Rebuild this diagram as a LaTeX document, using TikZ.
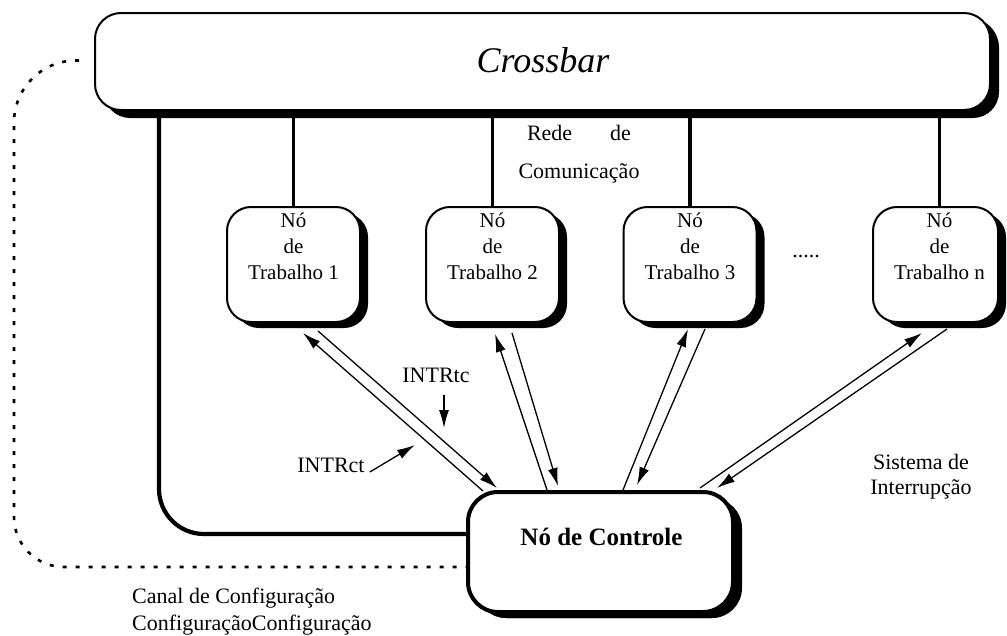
\documentclass[tikz,border=0pt]{standalone}
\usepackage{fontspec}
\setmainfont{Liberation Serif}
\usetikzlibrary{arrows.meta,shadows,calc}

\begin{document}
\begin{tikzpicture}[x=1pt,y=-1pt,
  every node/.style={font=\fontsize{22}{26}\selectfont, inner sep=0pt},
  shadowed/.style={draw, fill=white,
    drop shadow={shadow xshift=8pt, shadow yshift=-6pt, fill=black, opacity=1}},
  crossbar/.style={shadowed, line width=2pt, rounded corners=26pt,
    minimum width=895pt, minimum height=97pt,
    drop shadow={shadow xshift=9pt, shadow yshift=-8pt, fill=black, opacity=1}},
  worker/.style={shadowed, line width=2pt, rounded corners=24pt,
    minimum width=133pt, minimum height=115pt},
  control/.style={shadowed, line width=4pt, rounded corners=30pt,
    minimum width=265pt, minimum height=120pt,
    drop shadow={shadow xshift=9pt, shadow yshift=-6pt, fill=black, opacity=1}},
  bus/.style={line width=3.8pt},
  cfg/.style={line width=2.6pt, dash pattern=on 4pt off 9pt},
  tip/.tip={Latex[length=18pt,width=10pt]},
  sig/.style={line width=1.3pt, -tip},
  pointer/.style={line width=1.3pt, -tip},
  nodetext/.style={align=center, font=\fontsize{21}{26}\selectfont}
]
\useasboundingbox (0,0) rectangle (1007,635);

% crossbar, worker nodes and control node
\node[crossbar] (cb) at (542.5,61.5) {};
\node[font=\itshape\fontsize{36}{40}\selectfont] (cbtext) at (543,60) {Crossbar};

\node[worker] (w1) at (293.5,264.5) {};
\node[worker] (w2) at (492.5,264.5) {};
\node[worker] (w3) at (690,264.5) {};
\node[worker, minimum width=125pt] (wn) at (935.5,264.5) {};

\node[nodetext] (w1text) at ($(w1.north)+(0,40)$) {Nó\\de\\Trabalho 1};
\node[nodetext] (w2text) at ($(w2.north)+(0,40)$) {Nó\\de\\Trabalho 2};
\node[nodetext] (w3text) at ($(w3.north)+(0,40)$) {Nó\\de\\Trabalho 3};
\node[nodetext] (wntext) at ($(wn.north)+(4,40)$) {Nó\\de\\Trabalho n};

\node[control] (ctl) at (600.5,552) {};
\node[font=\bfseries\fontsize{25}{30}\selectfont] (ctltext) at ($(ctl.center)+(1,-15)$) {Nó de Controle};

% communication network: crossbar down to every node
\path ($(wn.north)+(4,0)$) coordinate (wnup);
\draw[bus] (w1.north |- cb.south) -- (w1.north);
\draw[bus] (w2.north |- cb.south) -- (w2.north);
\draw[bus] (w3.north |- cb.south) -- (w3.north);
\draw[bus] (wnup |- cb.south) -- (wnup);
\draw[bus, line width=4.2pt, rounded corners=45pt]
  ($(cb.south west)+(65,0)$) |- ($(ctl.west)+(0,-18)$);

% configuration channel
\draw[cfg] ($(cb.west)+(-15,-1)$) [rounded corners=62pt] -| (14,300)
  [rounded corners=50pt] |- ($(ctl.west)+(0,15)$);

% interrupt system: one pair of lines per worker node
\draw[sig] ([shift={(-117.5,1)}]ctl.north) -- ([shift={(9.5,10)}]w1.south);
\draw[sig] ([shift={(24.5,8)}]w1.south) -- ([shift={(-103.5,-2)}]ctl.north);
\draw[sig] ([shift={(-53.5,0)}]ctl.north) -- ([shift={(2.5,11)}]w2.south);
\draw[sig] ([shift={(19.5,10)}]w2.south) -- ([shift={(-42.5,-4)}]ctl.north);
\draw[sig] ([shift={(22.5,0)}]ctl.north) -- ([shift={(-2,6)}]w3.south);
\draw[sig] ([shift={(15,6)}]w3.south) -- ([shift={(36.5,-5)}]ctl.north);
\draw[sig] ([shift={(99.5,-2)}]ctl.north) -- ([shift={(-13.5,10)}]wn.south);
\draw[sig] ([shift={(11.5,6)}]wn.south) -- ([shift={(116.5,-2)}]ctl.north);

% labels
\node[align=center] (net) at (579,154) {Rede\hspace{38pt}de\\[12pt]Comunicação};
\node (dots) at (806,257) {.....};
\node (itc) at (436,375) {INTRtc};
\coordinate (itctip) at (444,428);
\draw[pointer] ($(itc.south)+(8,12)$) -- (itctip);
\node (ict) at (331,465) {INTRct};
\coordinate (icttip) at (415,445);
\draw[pointer] ($(ict.east)+(5,7)$) -- (icttip);
\node[align=center, font=\fontsize{22}{25}\selectfont] (irq) at (921,477) {Sistema de\\Interrupção};
\node[anchor=west, align=left, font=\fontsize{22}{27}\selectfont] (cfgtext) at (132,611.5)
  {Canal de Configuração\\ConfiguraçãoConfiguração};
\end{tikzpicture}
\end{document}
